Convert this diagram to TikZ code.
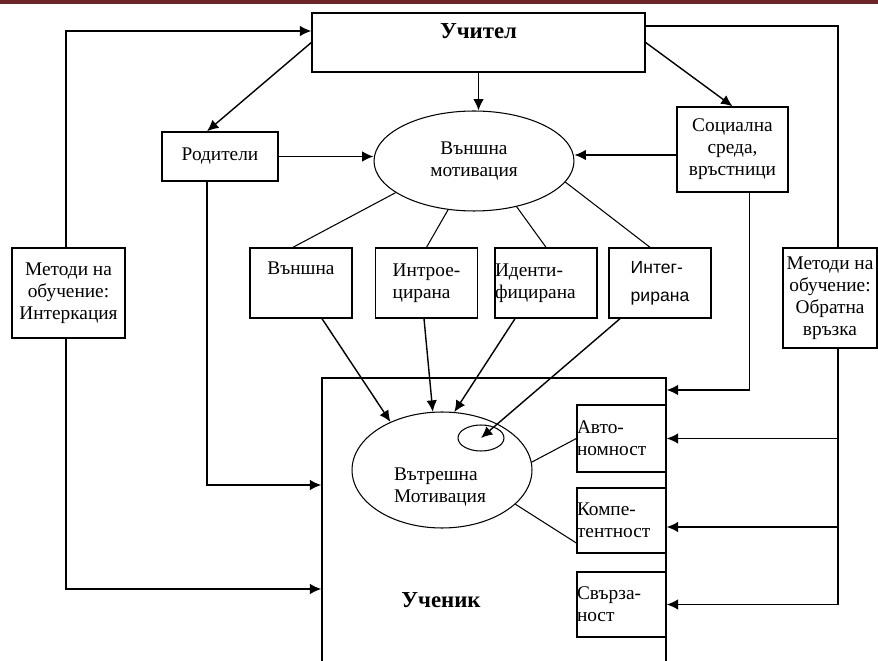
\documentclass[tikz,border=0pt]{standalone}
\usepackage{fontspec}
\setmainfont{Liberation Serif}
\newfontfamily\arialfont{Liberation Sans}
\usepackage{tikz}
\usetikzlibrary{shapes,arrows.meta,positioning,calc}
\usepackage{xcolor}
\definecolor{topbar}{RGB}{108,36,38}

\begin{document}
\begin{tikzpicture}[x=0.02cm, y=-0.02cm, line width=0.8pt, >={Latex[length=6.5pt,width=6pt]},
    every node/.style={font=\fontsize{11}{12.5}\selectfont}]
    \tikzstyle{box} = [rectangle, draw, line width=0.8pt, inner sep=0pt, align=center]
    \tikzstyle{oval} = [ellipse, draw, line width=0.6pt, inner sep=0pt, align=center]
    \tikzstyle{link} = [line width=0.6pt]
    \tikzstyle{title} = [font=\fontsize{13}{15}\selectfont\bfseries]
    \tikzstyle{regbox} = [box, minimum width=2.04cm, minimum height=1.4cm]
    \tikzstyle{needbox} = [box, align=left, text width=1.78cm, minimum height=1.3cm]

    \useasboundingbox (0,0) rectangle (878,661);
    \fill[topbar] (0,0) rectangle (878,4);

    % upper part
    \node[box, title, minimum width=6.66cm, minimum height=1.18cm, text height=10pt, text depth=14pt] (teacher) at (478.5,42.5) {Учител};
    \node[box, minimum width=2.32cm, minimum height=0.98cm] (parents) at (220,156.5) {Родители};
    \node[box, minimum width=2.22cm, minimum height=1.7cm] (social) at (732.5,149.5) {Социална\\среда,\\връстници};
    \node[oval, minimum width=4cm, minimum height=2cm] (extmot) at (474,161) {Външна\\мотивация};

    % regulation types
    \node[regbox, text height=8pt, text depth=18pt] (extbox) at (301,283) {Външна};
    \node[regbox, align=left] (intro) at (426.5,283) {Интрое-\\цирана};
    \node[regbox, align=left, text width=2.04cm] (ident) at (546,283) {Иденти-\\фицирана};
    \node[regbox, align=left, font=\arialfont\fontsize{10}{16}\selectfont] (integ) at (660,283) {Интег-\\рирана};

    % teaching methods
    \node[box, minimum width=2.26cm, minimum height=1.8cm] (methl) at (68.5,293) {Методи на\\обучение:\\Интеркация};
    \node[box, minimum width=1.88cm, minimum height=2cm] (methr) at (830,298) {Методи на\\обучение:\\Обратна\\връзка};

    % student
    \node[box, minimum width=6.88cm, minimum height=6.24cm] (student) at (494,534) {};
    \node[title] (studentlbl) at (441,600) {Ученик};
    \node[needbox, minimum height=1.34cm] (auto) at (621.5,438.5) {Авто-\\номност};
    \node[needbox] (comp) at (621.5,520.5) {Компе-\\тентност};
    \node[needbox] (rel) at (621.5,604.5) {Свърза-\\ност};
    \node[oval, minimum width=3.6cm, minimum height=2.32cm] (intmot) at (442,470) {};
    \node[align=left] (intmotlbl) at (440,487) {Вътрешна\\Мотивация};
    \node[oval, minimum width=0.92cm, minimum height=0.52cm] (loop) at (481,438) {};

    % arrows
    \draw[->] (methl.north -| 66,0) |- (teacher.west |- 0,31);
    \draw[->] (methl.south -| 66,0) |- (student.west |- 0,589);
    \draw (teacher.east |- 0,26) -| (methr.north -| 838,0);
    \draw[->] (methr.south -| 838,0) |- (auto.east);
    \draw[->] (methr.south -| 838,0) |- (comp.east |- 0,527);
    \draw[->] (methr.south -| 838,0) |- (rel.east);

    \draw[->] (teacher.west) -- ($(parents.north)+(-13,0)$);
    \draw[->] (teacher.east) -- (social.north);
    \draw[->] (teacher.south) -- (teacher.south |- extmot.north);
    \draw[->] (parents.east) -- (parents.east -| extmot.west);
    \draw[->] (social.west |- 0,155) -- (extmot.east |- 0,155);
    \draw[->] ($(parents.south)+(-13,0)$) |- (student.west |- 0,485);
    \draw[->] ($(social.south)+(17,0)$) |- (student.east |- 0,390);

    \draw[link] (extbox.north -| 293,0) -- (extmot.-158);
    \draw[link] (intro.north) -- (extmot.-118);
    \draw[link] (ident.north) -- (extmot.-47);
    \draw[link] (integ.north -| 650,0) -- (extmot.-13);

    \draw[->] (extbox.south -| 322,0) -- (intmot.137);
    \draw[->] (intro.south -| 424,0) -- (intmot.99);
    \draw[->] (ident.south -| 515,0) -- (intmot.78);
    \draw[->] (integ.south -| 620,0) -- (loop.center);

    \draw[link] (intmot.5) -- (auto.west);
    \draw[link] (intmot.-25) -- (comp.west |- 0,543);
\end{tikzpicture}
\end{document}
